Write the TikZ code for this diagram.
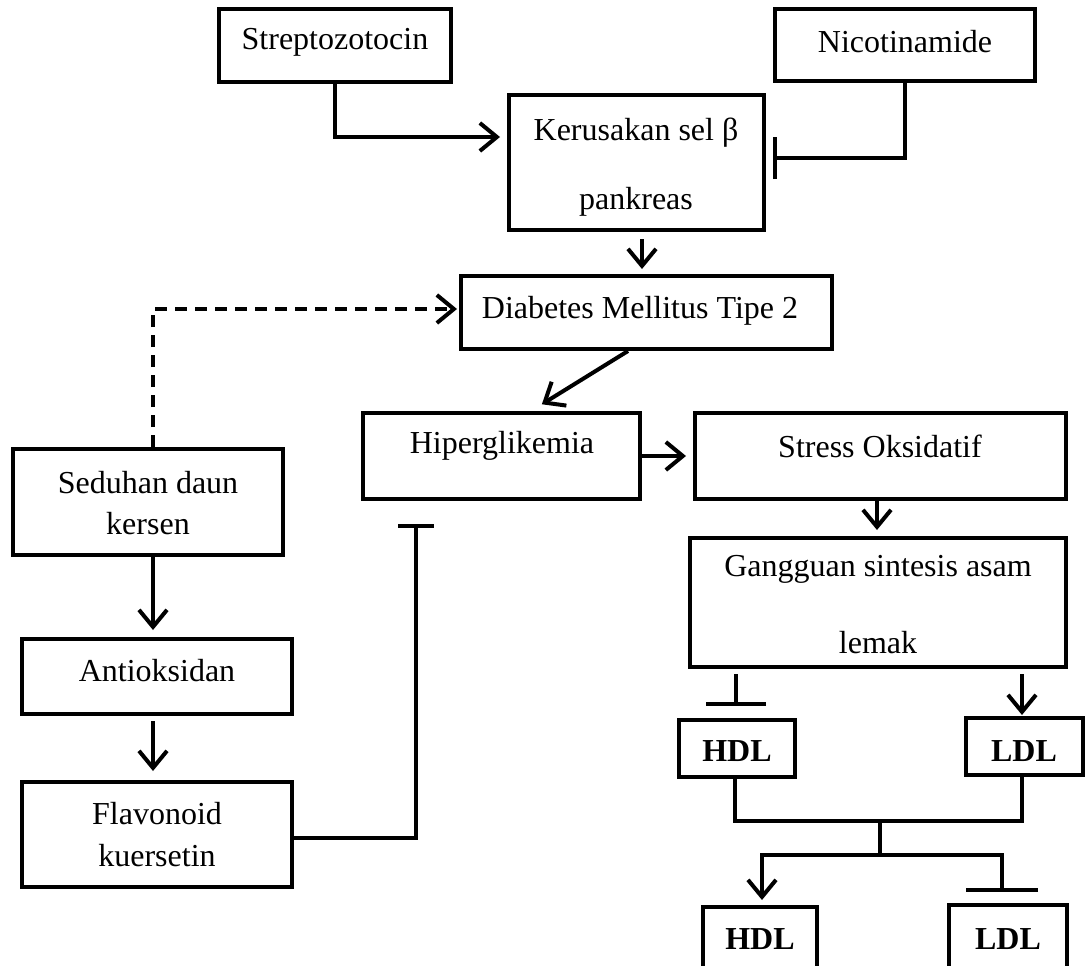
\documentclass[tikz,border=0pt]{standalone}
\usepackage{fontspec}
\setmainfont{Liberation Serif}
\usetikzlibrary{arrows.meta}
\begin{document}
\begin{tikzpicture}[x=1pt,y=-1pt,
  box/.style={draw, line width=4pt, inner sep=0pt},
  txt/.style={font=\fontsize{32}{38}\selectfont, inner sep=0pt, anchor=center},
  btxt/.style={font=\fontsize{32}{38}\selectfont\bfseries, inner sep=0pt, anchor=center},
  conn/.style={line width=4pt},
  arr/.style={conn, -{Straight Barb[length=17pt,width=28pt]}},
  inh/.style={conn, -{Bar[width=#1]}},
  dashline/.style={conn, dash pattern=on 12pt off 8pt}]
\useasboundingbox (0,0) rectangle (1085,966);
\clip (0,0) rectangle (1085,966);
% boxes
\node[box, minimum width=232pt, minimum height=73pt] (strep) at (335,45.5) {};
\node[box, minimum width=260pt, minimum height=72pt] (nico) at (905,45) {};
\node[box, minimum width=255pt, minimum height=135pt] (ker) at (636.5,162.5) {};
\node[box, minimum width=371pt, minimum height=73pt] (dm) at (646.5,312.5) {};
\node[box, minimum width=277pt, minimum height=86pt] (hip) at (501.5,456) {};
\node[box, minimum width=371pt, minimum height=86pt] (stress) at (880.5,456) {};
\node[box, minimum width=376pt, minimum height=129pt] (gang) at (878,602.5) {};
\node[box, minimum width=270pt, minimum height=106pt] (sed) at (148,502) {};
\node[box, minimum width=270pt, minimum height=75pt] (anti) at (157,676.5) {};
\node[box, minimum width=270pt, minimum height=105pt] (flav) at (157,834.5) {};
\node[box, minimum width=116pt, minimum height=57pt] (hdlA) at (737,748.5) {};
\node[box, minimum width=117pt, minimum height=57pt] (ldlA) at (1024.5,746.5) {};
\node[box, minimum width=114pt, minimum height=83pt] (hdlB) at (760,948.5) {};
\node[box, minimum width=118pt, minimum height=85pt] (ldlB) at (1008,947.5) {};
% texts
\node[txt] (tstrep) at (335,42) {Streptozotocin};
\node[txt] (tnico) at (905,42) {Nicotinamide};
\node[txt] (tker1) at (636,133) {Kerusakan sel β};
\node[txt] (tker2) at (636,202) {pankreas};
\node[txt] (tdm) at (640,311) {Diabetes Mellitus Tipe 2};
\node[txt] (thip) at (502,446) {Hiperglikemia};
\node[txt] (tstress) at (880,446) {Stress Oksidatif};
\node[txt] (tgang1) at (878,569) {Gangguan sintesis asam};
\node[txt] (tgang2) at (878,643) {lemak};
\node[txt] (tsed1) at (148,483) {Seduhan daun};
\node[txt] (tsed2) at (148,524) {kersen};
\node[txt] (tanti) at (157,671) {Antioksidan};
\node[txt] (tflav1) at (157,814) {Flavonoid};
\node[txt] (tflav2) at (157,856) {kuersetin};
\node[btxt] (thdlA) at (737,751) {HDL};
\node[btxt] (tldlA) at (1024,751) {LDL};
\node[btxt] (thdlB) at (760,939) {HDL};
\node[btxt] (tldlB) at (1008,939) {LDL};
% junctions
\coordinate (j) at (880,821);
\coordinate (k) at (880,855);
% connectors
\draw[arr, shorten >=7pt] (strep.south) |- ([yshift=25.5pt]ker.west);
\draw[inh=42pt, shorten >=7pt] (nico.south) |- ([yshift=4.5pt]ker.east);
\draw[arr, shorten <=7pt, shorten >=5pt] (642,0 |- ker.south) -- (642,0 |- dm.north);
\draw[dashline, arr, shorten >=2pt] (153,0 |- sed.north) |- ([yshift=3.5pt]dm.west);
\draw[arr, shorten >=12.8pt] (628,0 |- dm.south) -- (531,0 |- hip.north);
\draw[arr, shorten >=7pt] (hip.east) -- (stress.west);
\draw[arr, shorten >=6pt] (877,0 |- stress.south) -- (877,0 |- gang.north);
\draw[arr, shorten >=7pt] (153,0 |- sed.south) -- (153,0 |- anti.north);
\draw[arr, shorten <=5pt, shorten >=9pt] (153,0 |- anti.south) -- (153,0 |- flav.north);
\draw[inh=36pt, shorten >=23pt] ([yshift=-3.5pt]flav.east) -| (416,0 |- hip.south);
\draw[inh=60pt, shorten <=5pt, shorten >=12pt] (736,0 |- gang.south) -- (736,0 |- hdlA.north);
\draw[arr, shorten <=5pt, shorten >=1pt] (1022,0 |- gang.south) -- (1022,0 |- ldlA.north);
\draw[conn] (735,0 |- hdlA.south) |- (j) -| (1022,0 |- ldlA.south);
\draw[conn] (j) -- (k);
\draw[arr, shorten >=5pt] (k) -| (762,0 |- hdlB.north);
\draw[inh=72pt, shorten >=11pt] (k) -| (1002,0 |- ldlB.north);
\end{tikzpicture}
\end{document}
